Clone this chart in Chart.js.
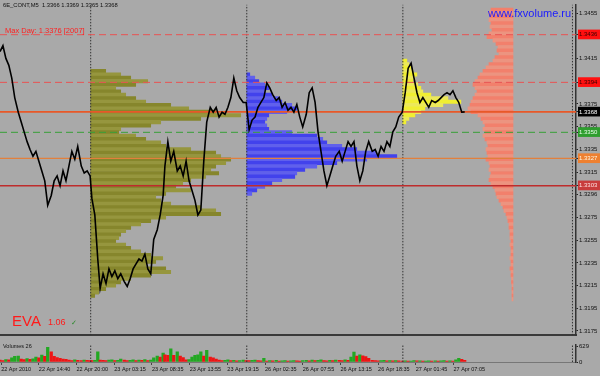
<!DOCTYPE html>
<html><head><meta charset="utf-8">
<script src="https://cdn.jsdelivr.net/npm/chart.js@4"></script>
<style>
html,body{margin:0;padding:0;background:#A9A9A9;}
#wrap{position:relative;width:600px;height:376px;overflow:hidden;background:#A9A9A9;}
canvas{position:absolute;left:0;}
#c1{top:0;width:600px;height:340px;}
#c2{top:340px;width:600px;height:36px;}
.t{position:absolute;white-space:nowrap;line-height:1;font-family:"Liberation Sans",Arial,sans-serif;}
</style></head>
<body><div id="wrap">
<canvas id="c1" width="600" height="340"></canvas>
<canvas id="c2" width="600" height="36"></canvas>
<div class="t" style="left:3px;top:3px;font-size:5.8px;color:#111">6E_CONT,M5&nbsp; 1.3366 1.3369 1.3365 1.3368</div>
<div class="t" style="left:5px;top:27px;font-size:7.5px;color:#ff2020">Max Day: 1.3376 [2007]</div>
<div class="t" style="left:488px;top:8px;font-size:11px;color:#1a1aff">www.fxvolume.ru</div>
<div class="t" style="left:12px;top:313px;font-size:15px;color:#ff1a1a">EVA</div>
<div class="t" style="left:48px;top:318px;font-size:9px;color:#ff1a1a">1.06</div>
<div class="t" style="left:71px;top:319px;font-size:7px;color:#2a8a2a">✓</div>
<div class="t" style="left:3px;top:343.5px;font-size:5.5px;color:#111">Volumes 26</div>
</div>
<script>
// ---------- data ----------
const dateTickBars = [2,66,130,194,258,322,386,450,514,578,642,706,770];
const dateTickLabels = ['22 Apr 2010','22 Apr 14:40','22 Apr 20:00','23 Apr 03:15','23 Apr 08:35','23 Apr 13:55','23 Apr 19:15','26 Apr 02:35','26 Apr 07:55','26 Apr 13:15','26 Apr 18:35','27 Apr 01:45','27 Apr 07:05'];

const priceTicks = [1.3455,1.3436,1.3415,1.3394,1.3375,1.3368,1.3355,1.3350,1.3335,1.3327,1.3315,1.3303,1.3295,1.3275,1.3255,1.3235,1.3215,1.3195,1.3175];
const priceTickLabels = ['1.3455','1.3436','1.3415','1.3394','1.3375','1.3368','1.3355','1.3350','1.3335','1.3327','1.3315','1.3303','1.3296','1.3275','1.3255','1.3235','1.3215','1.3195','1.3175'];

const levels = [1.3436,1.3394,1.3368,1.3350,1.3327,1.3303];

const daySeparators = [154,419,684,972];

const priceBar = [
0,5,10,15,20,25,31,36,41,46,51,56,61,66,71,76,81,87,92,97,102,107,112,117,122,127,132,138,143,148,153,
156,161,166,170,
175,180,185,190,195,200,205,211,216,221,226,231,236,241,246,251,256,261,267,272,277,
280,
285,290,295,301,306,311,316,321,326,331,336,341,346,351,357,362,367,372,377,382,387,392,397,402,407,413,418,
423,428,433,438,443,448,453,458,463,469,474,479,484,489,494,499,504,509,514,520,525,530,535,540,545,550,555,560,565,570,
576,581,586,591,596,601,606,611,616,621,626,632,637,642,647,652,657,662,667,672,677,683,688,693,698,703,708,713,718,723,
728,733,739,744,749,754,759,764,769,774,779,784,789];

const priceClose = [
1.34211,1.34263,1.34151,1.34090,1.33978,1.33806,1.33677,1.33590,1.33504,1.33418,1.33349,1.33289,1.33332,1.33246,1.33160,1.33073,1.32858,1.32944,1.33073,1.33116,1.33030,1.33160,1.33073,1.33203,1.33332,1.33263,1.33375,1.33203,1.33142,1.33160,1.33116,
1.32918,1.32772,1.32384,1.32125,
1.32254,1.32168,1.32297,1.32229,1.32280,1.32211,1.32254,1.32185,1.32142,1.32211,1.32297,1.32341,1.32384,1.32366,1.32427,1.32297,1.32254,1.32556,1.32642,1.32772,1.32944,
1.33203,
1.33418,1.33246,1.33332,1.33160,1.33203,1.33116,1.33246,1.33073,1.32987,1.32901,1.32772,1.32815,1.33246,1.33590,1.33720,1.33677,1.33720,1.33634,1.33677,1.33659,1.33720,1.33806,1.33978,1.33866,1.33806,1.33763,1.33763,
1.33522,1.33608,1.33634,1.33720,1.33763,1.33806,1.33935,1.33892,1.33832,1.33780,
1.33806,1.33720,1.33763,1.33694,1.33720,1.33677,1.33746,1.33634,1.33547,1.33659,
1.33849,1.33892,1.33763,1.33504,1.33332,1.33160,1.33030,1.33116,1.33203,1.33289,
1.33332,1.33246,1.33332,1.33418,1.33375,1.33418,1.33203,1.33073,1.33160,1.33332,
1.33418,1.33332,1.33349,1.33289,1.33375,1.33332,1.33418,1.33375,1.33504,1.33547,
1.33634,1.33677,1.33849,1.34065,1.34108,1.33978,1.33849,1.33763,1.33806,1.33763,
1.33720,1.33780,1.33763,1.33780,1.33806,1.33832,1.33849,1.33832,1.33866,1.33806,
1.33763,1.33677,1.33680];

const volume = [
80,60,100,90,170,230,250,120,100,140,110,130,200,170,290,230,610,420,230,180,150,120,115,80,60,90,70,60,80,70,60,
60,70,420,80,
70,60,80,90,60,70,120,80,60,70,90,60,80,70,100,60,80,170,250,200,370,
300,
280,540,280,420,250,180,90,100,200,280,300,420,250,480,200,170,120,80,60,70,90,60,70,50,60,80,60,
60,70,80,60,50,150,40,60,50,70,40,50,60,40,50,60,50,40,
60,70,50,80,60,70,90,60,50,70,60,80,70,60,90,70,
200,410,250,300,260,220,150,
70,60,50,60,70,50,60,50,60,50,
40,50,35,40,60,45,50,35,40,50,35,45,40,50,60,40,50,40,
90,150,110,70];

// market profiles: volume per 0.0003 price row, listed from the top row down
const profileStep = 0.0003;
const oliveStartBar = 154, oliveTop = 1.3404;
const oliveVol = [15,30,40,57,45,25,30,35,45,55,80,98,125,150,110,70,60,30,28,45,55,70,75,100,125,130,140,135,125,120,128,115,100,92,85,100,75,65,70,80,110,125,130,75,60,50,40,35,30,28,25,35,40,50,60,72,65,55,75,80,60,40,30,25,15,8,4];
const blueStartBar = 419, blueTop = 1.3401;
const blueVol = [3,8,12,18,22,18,25,32,35,45,50,40,22,20,18,20,22,45,70,76,80,95,110,130,150,120,90,70,58,50,48,35,25,18,10,5];
const yellowStartBar = 684, yellowTop = 1.3413;
const yellowVol = [4,6,8,10,14,12,10,15,18,20,28,45,58,40,22,18,12,6,3];
const salmonEndBar = 871, salmonTop = 1.3458;
const salmonVol = [22,24,23,24,22,23,21,24,26,20,17,15,16,14,18,20,24,27,30,33,35,38,40,38,36,38,40,42,43,45,42,35,32,30,28,30,28,30,28,26,25,27,26,25,27,24,23,24,22,23,24,22,20,18,17,16,14,12,10,9,7,6,5,4,4,3,3,3,2,3,2,2,2,3,2,2,3,2,2,1.5,1.5,1,1,1,1,1];
const barsPerVolUnit = 1.698;

// ---------- styling ----------
const X_MIN = 0, X_MAX = 978;
const Y_MIN = 1.317112, Y_MAX = 1.34625;
const FONT = '"Liberation Sans", Arial, sans-serif';
const levelStyles = [
  {color:'rgb(232,84,84)', dash:[7,4], width:1},
  {color:'rgb(232,84,84)', dash:[7,4], width:1},
  {color:'rgb(232,88,40)', dash:[], width:1.6},
  {color:'rgb(56,160,56)', dash:[7,4], width:1},
  {color:'rgb(226,128,60)', dash:[], width:1.2},
  {color:'rgb(190,44,44)', dash:[], width:1.6}
];
const tickBox = {'1.3436':['#ff1010','#3a0000'],'1.3394':['#ff1010','#3a0000'],'1.3368':['#000000','#ffffff'],'1.3350':['#2e9e2e','#eaffea'],'1.3327':['#ee8030','#fff4e0'],'1.3303':['#c83c3c','#ffe0e0']};

function profileData(top, vols, anchor, rightAligned) {
  return vols.map((v, i) => {
    const p = +(top - i * profileStep).toFixed(4);
    const len = v * barsPerVolUnit;
    return {y: p, x: rightAligned ? [anchor - len, anchor] : [anchor, anchor + len]};
  });
}
function profileDataset(data, c1, c2) {
  return {type:'bar', indexAxis:'y', grouped:false, data,
    backgroundColor: ctx => (ctx.dataIndex % 2 ? c2 : c1),
    borderWidth:0, barPercentage:1, categoryPercentage:1, order:3};
}

const datasets = [];
datasets.push({type:'line', data: priceBar.map((b,i)=>({x:b, y:priceClose[i]})),
  borderColor:'#000', borderWidth:1.6, pointRadius:0, tension:0, order:0});
levels.forEach((lv, i) => datasets.push({type:'line', data:[{x:X_MIN,y:lv},{x:X_MAX,y:lv}],
  borderColor:levelStyles[i].color, borderDash:levelStyles[i].dash, borderWidth:levelStyles[i].width,
  pointRadius:0, order:1}));
daySeparators.forEach(b => datasets.push({type:'line', data:[{x:b,y:Y_MIN},{x:b,y:Y_MAX}],
  borderColor:'#333', borderDash:[1.5,1.5], borderWidth:1, pointRadius:0, order:2}));
datasets.push(profileDataset(profileData(oliveTop, oliveVol, oliveStartBar, false), 'rgb(134,134,44)', 'rgb(150,150,62)'));
datasets.push(profileDataset(profileData(blueTop, blueVol, blueStartBar, false), 'rgb(66,66,236)', 'rgb(96,96,236)'));
datasets.push(profileDataset(profileData(yellowTop, yellowVol, yellowStartBar, false), 'rgb(240,238,50)', 'rgb(236,232,90)'));
datasets.push(profileDataset(profileData(salmonTop, salmonVol, salmonEndBar, true), 'rgb(242,128,108)', 'rgb(236,148,128)'));

new Chart(document.getElementById('c1'), {
  type:'scatter',
  data:{datasets},
  options:{
    responsive:false, animation:false, devicePixelRatio:1,
    layout:{padding:0},
    plugins:{legend:{display:false}, tooltip:{enabled:false}},
    scales:{
      x:{type:'linear', min:X_MIN, max:X_MAX, offset:false,
        grid:{display:false, offset:false}, ticks:{display:false},
        border:{display:true, color:'#3a3a3a', width:2},
        afterFit: s => { s.height = 2; }},
      y:{type:'linear', position:'right', min:Y_MIN, max:Y_MAX, offset:false,
        grid:{drawOnChartArea:false, drawTicks:true, tickLength:2, color:'#222', offset:false},
        border:{display:true, color:'#333', width:1.5},
        afterBuildTicks: s => { s.ticks = priceTicks.map(v => ({value:v})); },
        afterFit: s => { s.width = 24; },
        ticks:{autoSkip:false, padding:1, font:{family:FONT, size:6},
          callback:(v, i) => priceTickLabels[i],
          color: ctx => (tickBox[priceTickLabels[ctx.index]] ? tickBox[priceTickLabels[ctx.index]][1] : '#111'),
          showLabelBackdrop: ctx => !!tickBox[priceTickLabels[ctx.index]],
          backdropColor: ctx => (tickBox[priceTickLabels[ctx.index]] ? tickBox[priceTickLabels[ctx.index]][0] : 'rgba(0,0,0,0)'),
          backdropPadding:{left:1,right:3,top:1.5,bottom:1}}
      }
    }
  }
});

// ---------- volume pane ----------
const VOL_MAX = 720;
const volDatasets = [{type:'bar', grouped:false, data: priceBar.map((b,i)=>({x:b, y:volume[i]})),
  backgroundColor: ctx => (ctx.dataIndex > 0 && volume[ctx.dataIndex] > volume[ctx.dataIndex-1] ? '#22a822' : '#ee1414'),
  barThickness:2.6, borderWidth:0, order:1}];
daySeparators.forEach(b => volDatasets.push({type:'line', data:[{x:b,y:0},{x:b,y:VOL_MAX}],
  borderColor:'#333', borderDash:[1.5,1.5], borderWidth:1, pointRadius:0, order:0}));

new Chart(document.getElementById('c2'), {
  type:'scatter',
  data:{datasets:volDatasets},
  options:{
    responsive:false, animation:false, devicePixelRatio:1,
    layout:{padding:{top:1,left:0,right:0,bottom:0}},
    plugins:{legend:{display:false}, tooltip:{enabled:false}},
    scales:{
      x:{type:'linear', min:X_MIN, max:X_MAX, offset:false,
        grid:{drawOnChartArea:false, drawTicks:true, tickLength:3, color:'#444', offset:false},
        border:{display:true, color:'#777', width:1},
        afterBuildTicks: s => { s.ticks = dateTickBars.map(v => ({value:v})); },
        afterFit: s => { s.height = 14; },
        ticks:{autoSkip:false, maxRotation:0, align:'start', padding:1,
          font:{family:FONT, size:5.5}, color:'#111',
          callback:(v, i) => dateTickLabels[i]}},
      y:{type:'linear', position:'right', min:0, max:VOL_MAX,
        grid:{drawOnChartArea:false, drawTicks:true, tickLength:2, color:'#222'},
        border:{display:true, color:'#333', width:1.5},
        afterBuildTicks: s => { s.ticks = [{value:629},{value:0}]; },
        afterFit: s => { s.width = 24; },
        ticks:{autoSkip:false, padding:1, font:{family:FONT, size:6}, color:'#111',
          callback: v => String(v)}}
    }
  }
});
</script>
</body></html>
